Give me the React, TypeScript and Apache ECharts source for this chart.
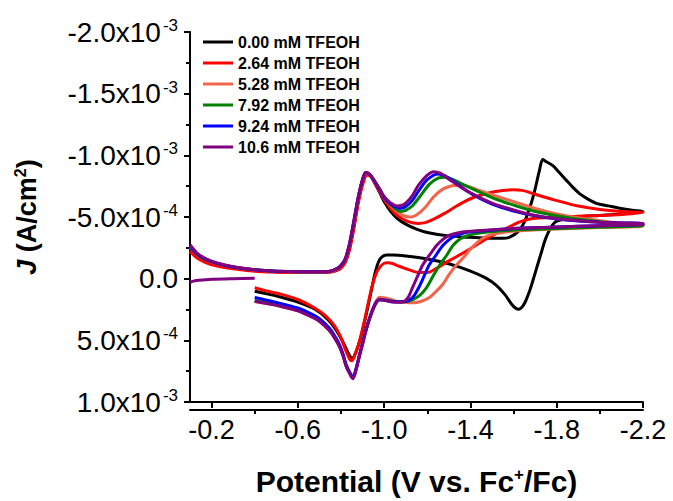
import { useEffect, useRef } from 'react';
import * as echarts from 'echarts';

const FONT = '"Liberation Sans", Arial, Helvetica, sans-serif';
// Current densities in the sweep tables are listed in units of 1e-4 A/cm².
const J_UNIT = 1e-4;

const seriesNames = [
  '0.00 mM TFEOH',
  '2.64 mM TFEOH',
  '5.28 mM TFEOH',
  '7.92 mM TFEOH',
  '9.24 mM TFEOH',
  '10.6 mM TFEOH',
];
const seriesColors = ['#000000', '#FF0000', '#F0654B', '#008000', '#0000FF', '#800080'];

const xMajorTicks = [-0.2, -0.6, -1.0, -1.4, -1.8, -2.2];
const xMinorTicks = [-0.4, -0.8, -1.2, -1.6, -2.0];
const yMajorTicks = [-2e-3, -1.5e-3, -1e-3, -5e-4, 0, 5e-4, 1e-3];
const yMinorTicks = [-1.75e-3, -1.25e-3, -7.5e-4, -2.5e-4, 2.5e-4, 7.5e-4];

// [potential (V vs Fc+/Fc), J (1e-4 A/cm²)] — cathodic sweep, then anodic return
const acid000Forward = [[-0.10,-2.48],[-0.13,-1.96],[-0.17,-1.48],[-0.22,-1.17],[-0.30,-0.89],[-0.40,-0.69],[-0.50,-0.57],[-0.60,-0.53],[-0.70,-0.53],[-0.75,-0.57],[-0.78,-0.69],[-0.80,-0.93],[-0.82,-1.40],[-0.84,-2.52],[-0.86,-4.26],[-0.88,-6.33],[-0.90,-7.76],[-0.92,-8.47],[-0.935,-8.39],[-0.95,-7.95],[-0.98,-6.96],[-1.00,-6.25],[-1.03,-5.45],[-1.06,-4.90],[-1.10,-4.42],[-1.15,-4.02],[-1.20,-3.75],[-1.30,-3.47],[-1.40,-3.35],[-1.50,-3.27],[-1.55,-3.27],[-1.58,-3.35],[-1.62,-3.79],[-1.65,-4.58],[-1.68,-6.01],[-1.70,-7.28],[-1.72,-8.79],[-1.735,-9.66],[-1.75,-9.50],[-1.782,-9.16],[-1.81,-8.65],[-1.845,-7.97],[-1.875,-7.40],[-1.906,-6.90],[-1.945,-6.45],[-1.984,-6.11],[-2.04,-5.90],[-2.092,-5.71],[-2.15,-5.55],[-2.20,-5.45]];
const acid000Reverse = [[-2.20,-5.40],[-2.10,-5.25],[-2.00,-5.13],[-1.906,-5.02],[-1.84,-4.86],[-1.80,-4.66],[-1.78,-4.34],[-1.76,-3.71],[-1.745,-3.07],[-1.73,-2.20],[-1.715,-1.33],[-1.70,-0.45],[-1.685,0.42],[-1.67,1.21],[-1.655,1.85],[-1.64,2.29],[-1.625,2.48],[-1.61,2.40],[-1.59,2.05],[-1.56,1.29],[-1.52,0.54],[-1.47,-0.06],[-1.40,-0.61],[-1.30,-1.21],[-1.20,-1.60],[-1.10,-1.84],[-1.04,-1.92],[-1.01,-1.92],[-0.99,-1.76],[-0.975,-1.40],[-0.96,-0.61],[-0.945,0.58],[-0.93,1.85],[-0.91,3.44],[-0.89,4.87],[-0.87,5.90],[-0.855,6.41],[-0.845,6.37],[-0.83,5.90],[-0.81,5.18],[-0.78,4.23],[-0.74,3.32],[-0.68,2.48],[-0.60,1.89],[-0.52,1.49],[-0.45,1.21],[-0.40,1.02]];

const acid264Forward = [[-0.10,-2.20],[-0.13,-1.72],[-0.17,-1.33],[-0.22,-1.05],[-0.30,-0.81],[-0.40,-0.61],[-0.50,-0.53],[-0.60,-0.49],[-0.70,-0.49],[-0.75,-0.53],[-0.78,-0.65],[-0.80,-0.85],[-0.82,-1.33],[-0.84,-2.36],[-0.86,-4.10],[-0.88,-6.09],[-0.90,-7.60],[-0.92,-8.39],[-0.935,-8.35],[-0.95,-7.99],[-0.98,-7.04],[-1.00,-6.40],[-1.03,-5.69],[-1.06,-5.13],[-1.10,-4.70],[-1.13,-4.54],[-1.16,-4.48],[-1.19,-4.54],[-1.23,-4.82],[-1.28,-5.29],[-1.34,-5.93],[-1.40,-6.48],[-1.47,-6.88],[-1.54,-7.12],[-1.60,-7.20],[-1.64,-7.16],[-1.68,-6.96],[-1.73,-6.68],[-1.80,-6.33],[-1.90,-5.89],[-2.00,-5.61],[-2.10,-5.45],[-2.20,-5.37]];
const acid264Reverse = [[-2.20,-5.33],[-2.10,-5.21],[-2.00,-5.13],[-1.90,-5.06],[-1.80,-4.98],[-1.70,-4.90],[-1.66,-4.78],[-1.62,-4.54],[-1.56,-4.00],[-1.50,-3.50],[-1.44,-2.87],[-1.37,-2.12],[-1.30,-1.44],[-1.24,-0.81],[-1.20,-0.49],[-1.16,-0.49],[-1.12,-0.69],[-1.07,-1.01],[-1.02,-1.29],[-1.00,-1.25],[-0.98,-0.93],[-0.96,-0.29],[-0.94,0.90],[-0.92,2.48],[-0.90,4.07],[-0.88,5.42],[-0.86,6.37],[-0.85,6.65],[-0.84,6.53],[-0.82,5.74],[-0.80,4.79],[-0.77,3.83],[-0.73,3.04],[-0.68,2.40],[-0.60,1.69],[-0.52,1.25],[-0.45,0.98],[-0.40,0.74]];

const acid528Forward = [[-0.10,-2.55],[-0.13,-2.00],[-0.17,-1.56],[-0.22,-1.24],[-0.30,-0.93],[-0.40,-0.71],[-0.50,-0.59],[-0.60,-0.55],[-0.70,-0.55],[-0.75,-0.59],[-0.78,-0.78],[-0.80,-1.03],[-0.82,-1.53],[-0.84,-2.75],[-0.86,-4.55],[-0.88,-6.50],[-0.90,-7.97],[-0.915,-8.55],[-0.93,-8.45],[-0.95,-8.00],[-0.98,-7.20],[-1.00,-6.56],[-1.03,-5.93],[-1.06,-5.41],[-1.09,-5.10],[-1.12,-5.00],[-1.15,-5.17],[-1.19,-5.77],[-1.23,-6.64],[-1.27,-7.24],[-1.31,-7.52],[-1.35,-7.57],[-1.39,-7.48],[-1.44,-7.16],[-1.50,-6.80],[-1.60,-6.25],[-1.70,-5.69],[-1.80,-5.25],[-1.90,-4.94],[-2.00,-4.70],[-2.10,-4.50],[-2.20,-4.36]];
const acid528Reverse = [[-2.20,-4.26],[-2.00,-4.14],[-1.80,-4.02],[-1.65,-3.90],[-1.55,-3.75],[-1.50,-3.59],[-1.46,-3.31],[-1.43,-2.91],[-1.40,-2.40],[-1.37,-1.75],[-1.334,-1.09],[-1.30,-0.30],[-1.272,0.45],[-1.24,1.05],[-1.21,1.52],[-1.17,1.85],[-1.133,1.95],[-1.10,1.93],[-1.06,1.85],[-1.02,1.62],[-0.98,1.50],[-0.963,1.82],[-0.94,2.78],[-0.916,4.12],[-0.90,5.22],[-0.885,6.25],[-0.87,7.32],[-0.855,8.05],[-0.84,7.64],[-0.824,7.05],[-0.81,6.25],[-0.793,5.50],[-0.77,4.78],[-0.746,4.20],[-0.70,3.45],[-0.669,3.14],[-0.60,2.60],[-0.514,2.22],[-0.45,2.00],[-0.40,1.85]];

const acid792Forward = [[-0.10,-2.60],[-0.13,-2.02],[-0.17,-1.58],[-0.22,-1.26],[-0.30,-0.95],[-0.40,-0.72],[-0.50,-0.60],[-0.60,-0.56],[-0.70,-0.56],[-0.75,-0.60],[-0.78,-0.79],[-0.80,-1.05],[-0.82,-1.57],[-0.84,-2.80],[-0.86,-4.62],[-0.88,-6.55],[-0.90,-8.00],[-0.915,-8.58],[-0.93,-8.47],[-0.95,-8.03],[-0.98,-7.24],[-1.00,-6.64],[-1.03,-6.01],[-1.06,-5.57],[-1.08,-5.45],[-1.10,-5.53],[-1.13,-5.89],[-1.17,-6.76],[-1.21,-7.67],[-1.25,-8.15],[-1.28,-8.23],[-1.32,-8.03],[-1.37,-7.60],[-1.44,-7.04],[-1.52,-6.44],[-1.60,-5.97],[-1.70,-5.45],[-1.80,-5.10],[-1.90,-4.82],[-2.00,-4.62],[-2.10,-4.48],[-2.20,-4.38]];
const acid792Reverse = [[-2.20,-4.30],[-2.00,-4.18],[-1.80,-4.06],[-1.60,-3.94],[-1.48,-3.79],[-1.42,-3.63],[-1.38,-3.45],[-1.35,-3.20],[-1.318,-2.67],[-1.29,-1.90],[-1.257,-1.09],[-1.225,-0.15],[-1.195,0.76],[-1.165,1.35],[-1.133,1.69],[-1.10,1.85],[-1.06,1.87],[-1.02,1.78],[-0.98,1.70],[-0.963,1.93],[-0.94,2.85],[-0.916,4.16],[-0.90,5.26],[-0.885,6.27],[-0.87,7.34],[-0.855,8.05],[-0.84,7.64],[-0.824,7.05],[-0.81,6.22],[-0.793,5.45],[-0.77,4.72],[-0.746,4.12],[-0.70,3.37],[-0.669,3.05],[-0.60,2.52],[-0.514,2.14],[-0.45,1.92],[-0.40,1.76]];

const acid924Forward = [[-0.10,-2.65],[-0.13,-2.05],[-0.17,-1.60],[-0.22,-1.27],[-0.30,-0.95],[-0.40,-0.72],[-0.50,-0.60],[-0.60,-0.56],[-0.70,-0.56],[-0.75,-0.60],[-0.78,-0.80],[-0.80,-1.07],[-0.82,-1.60],[-0.84,-2.85],[-0.86,-4.68],[-0.88,-6.60],[-0.90,-8.03],[-0.915,-8.60],[-0.93,-8.49],[-0.95,-8.05],[-0.98,-7.20],[-1.00,-6.56],[-1.03,-6.05],[-1.06,-5.77],[-1.08,-5.71],[-1.10,-5.85],[-1.13,-6.33],[-1.16,-7.12],[-1.20,-8.03],[-1.25,-8.49],[-1.28,-8.35],[-1.32,-7.91],[-1.37,-7.28],[-1.42,-6.72],[-1.50,-6.05],[-1.60,-5.49],[-1.70,-5.10],[-1.80,-4.83],[-1.90,-4.67],[-2.00,-4.58],[-2.10,-4.52],[-2.20,-4.48]];
const acid924Reverse = [[-2.20,-4.42],[-2.00,-4.30],[-1.80,-4.18],[-1.60,-4.06],[-1.48,-3.90],[-1.38,-3.75],[-1.33,-3.50],[-1.30,-3.15],[-1.271,-2.67],[-1.24,-1.90],[-1.208,-1.09],[-1.185,-0.20],[-1.16,0.74],[-1.14,1.35],[-1.12,1.70],[-1.09,1.88],[-1.05,1.88],[-1.00,1.72],[-0.98,1.68],[-0.963,1.92],[-0.94,2.82],[-0.916,4.12],[-0.90,5.22],[-0.885,6.22],[-0.87,7.28],[-0.855,7.98],[-0.84,7.58],[-0.824,6.98],[-0.81,6.15],[-0.793,5.35],[-0.77,4.62],[-0.746,4.00],[-0.70,3.25],[-0.669,2.92],[-0.60,2.38],[-0.514,1.98],[-0.45,1.72],[-0.40,1.52]];

const acid106Forward = [[-0.10,-2.75],[-0.13,-2.12],[-0.17,-1.64],[-0.22,-1.29],[-0.30,-0.97],[-0.40,-0.73],[-0.50,-0.61],[-0.60,-0.57],[-0.70,-0.57],[-0.75,-0.61],[-0.78,-0.81],[-0.80,-1.09],[-0.82,-1.64],[-0.84,-2.91],[-0.86,-4.74],[-0.88,-6.64],[-0.90,-8.07],[-0.915,-8.63],[-0.93,-8.51],[-0.95,-8.07],[-0.98,-7.20],[-1.00,-6.64],[-1.03,-6.13],[-1.06,-5.89],[-1.08,-5.93],[-1.10,-6.13],[-1.13,-6.72],[-1.16,-7.60],[-1.20,-8.39],[-1.23,-8.67],[-1.26,-8.55],[-1.30,-8.07],[-1.35,-7.48],[-1.40,-6.96],[-1.50,-6.13],[-1.60,-5.57],[-1.70,-5.13],[-1.80,-4.86],[-1.90,-4.70],[-2.00,-4.58],[-2.10,-4.52],[-2.20,-4.48]];
const acid106Reverse = [[-2.20,-4.42],[-2.00,-4.30],[-1.80,-4.18],[-1.60,-4.06],[-1.45,-3.90],[-1.35,-3.75],[-1.30,-3.50],[-1.27,-3.15],[-1.242,-2.67],[-1.21,-1.90],[-1.178,-1.09],[-1.155,-0.20],[-1.131,0.74],[-1.115,1.40],[-1.10,1.75],[-1.08,1.92],[-1.04,1.90],[-1.00,1.75],[-0.98,1.70],[-0.963,1.95],[-0.94,2.88],[-0.916,4.20],[-0.90,5.30],[-0.885,6.32],[-0.87,7.40],[-0.855,8.12],[-0.84,7.70],[-0.824,7.11],[-0.81,6.30],[-0.793,5.52],[-0.77,4.80],[-0.746,4.20],[-0.70,3.45],[-0.669,3.14],[-0.60,2.60],[-0.514,2.22],[-0.45,2.00],[-0.40,1.83]];
// opening segment recorded before the first cathodic sweep
const acid106Lead = [[-0.10,0.29],[-0.12,0.18],[-0.14,0.13],[-0.20,0.05],[-0.30,0.00],[-0.40,-0.03]];

const sweeps = [
  [acid000Forward, acid000Reverse],
  [acid264Forward, acid264Reverse],
  [acid528Forward, acid528Reverse],
  [acid792Forward, acid792Reverse],
  [acid924Forward, acid924Reverse],
  [acid106Forward, acid106Reverse],
];

const GRID = { left: 190, right: 30, top: 32, bottom: 91 };
const W = 673;
const H = 501;

function toPoints(rows: number[][]) {
  return rows.map(([v, j]) => [v, j * J_UNIT]);
}

function sciLabel(value: number) {
  if (Math.abs(value) < 1e-12) return '{m|0.0}';
  const exp = Math.abs(value) >= 1e-3 - 1e-12 ? -3 : -4;
  const mant = value / Math.pow(10, exp);
  return `{m|${mant.toFixed(1)}x10}{e|${exp}}`;
}

function lineSeriesFor(name: string, color: string, rows: number[][]) {
  return {
    type: 'line',
    name,
    data: toPoints(rows),
    xAxisIndex: 0,
    yAxisIndex: 0,
    symbol: 'none',
    smooth: 0.3,
    lineStyle: { color, width: 3 },
    itemStyle: { color },
  };
}

export default function App() {
  const ref = useRef<HTMLDivElement>(null);

  useEffect(() => {
    if (!ref.current) return;
    const chart = echarts.init(ref.current, undefined, { renderer: 'svg' });

    const series: any[] = sweeps.map(([fwd, rev], i) =>
      lineSeriesFor(seriesNames[i], seriesColors[i], [...fwd, ...rev])
    );
    series.push(lineSeriesFor(seriesNames[5], seriesColors[5], acid106Lead));

    const gridW = W - GRID.left - GRID.right;
    const gridH = H - GRID.top - GRID.bottom;
    const tickStyle = { color: '#000', width: 2 };

    chart.setOption({
      animation: false,
      backgroundColor: '#fff',
      grid: { ...GRID, containLabel: false },
      legend: {
        orient: 'vertical',
        left: 203,
        top: 34,
        padding: 0,
        itemGap: 5,
        itemWidth: 30,
        itemHeight: 3,
        icon: 'rect',
        data: seriesNames,
        textStyle: { fontFamily: FONT, fontSize: 16, fontWeight: 'bold', color: '#000', lineHeight: 16 },
      },
      xAxis: [
        {
          type: 'value',
          min: -2.2,
          max: -0.1,
          inverse: true,
          position: 'bottom',
          axisLine: { show: true, onZero: false, lineStyle: { color: '#000', width: 2 } },
          splitLine: { show: false },
          axisTick: { show: true, customValues: xMajorTicks, length: 6, lineStyle: tickStyle },
          axisLabel: {
            customValues: xMajorTicks,
            formatter: (v: number) => v.toFixed(1),
            fontFamily: FONT,
            fontSize: 27,
            color: '#000',
            margin: 14,
          },
          name: 'Potential (V vs. Fc{s|+}/Fc)',
          nameLocation: 'middle',
          nameGap: 64,
          nameTextStyle: {
            fontFamily: FONT,
            fontSize: 30,
            fontWeight: 'bold',
            color: '#000',
            lineHeight: 30,
            rich: {
              s: { fontFamily: FONT, fontSize: 17, fontWeight: 'bold', color: '#000', lineHeight: 17, verticalAlign: 'top' },
            },
          },
        },
        {
          // second scale over the same range, carrying the minor ticks and the baseline
          type: 'value',
          min: -2.2,
          max: -0.1,
          inverse: true,
          position: 'top',
          offset: -gridH,
          axisLine: { show: true, onZero: false, lineStyle: { color: '#000', width: 2 } },
          splitLine: { show: false },
          axisLabel: { show: false },
          axisTick: { show: true, inside: true, customValues: xMinorTicks, length: 4, lineStyle: tickStyle },
        },
      ],
      yAxis: [
        {
          type: 'value',
          min: -2e-3,
          max: 1e-3,
          inverse: true,
          position: 'left',
          axisLine: { show: true, onZero: false, lineStyle: { color: '#000', width: 2 } },
          splitLine: { show: false },
          axisTick: { show: true, customValues: yMajorTicks, length: 6, lineStyle: tickStyle },
          axisLabel: {
            customValues: yMajorTicks,
            formatter: sciLabel,
            margin: 12,
            rich: {
              m: { fontFamily: FONT, fontSize: 28, color: '#000', lineHeight: 30 },
              e: { fontFamily: FONT, fontSize: 17, color: '#000', lineHeight: 17, verticalAlign: 'top', padding: [0, 0, 0, 2] },
            },
          },
          name: '{j|J} (A/cm{s|2})',
          nameLocation: 'middle',
          nameRotate: 90,
          nameGap: 148,
          nameTextStyle: {
            fontFamily: FONT,
            fontSize: 27,
            fontWeight: 'bold',
            color: '#000',
            lineHeight: 30,
            rich: {
              j: { fontFamily: FONT, fontSize: 27, fontWeight: 'bold', fontStyle: 'italic', color: '#000', lineHeight: 30 },
              s: { fontFamily: FONT, fontSize: 16, fontWeight: 'bold', color: '#000', lineHeight: 16, verticalAlign: 'top' },
            },
          },
        },
        {
          type: 'value',
          min: -2e-3,
          max: 1e-3,
          inverse: true,
          position: 'right',
          offset: -gridW,
          axisLine: { show: true, onZero: false, lineStyle: { color: '#000', width: 2 } },
          splitLine: { show: false },
          axisLabel: { show: false },
          axisTick: { show: true, inside: true, customValues: yMinorTicks, length: 4, lineStyle: tickStyle },
        },
      ],
      series,
    });

    return () => chart.dispose();
  }, []);

  return (
    <div
      ref={ref}
      style={{ position: 'absolute', left: 0, top: 0, width: W, height: H, background: '#fff' }}
    />
  );
}
